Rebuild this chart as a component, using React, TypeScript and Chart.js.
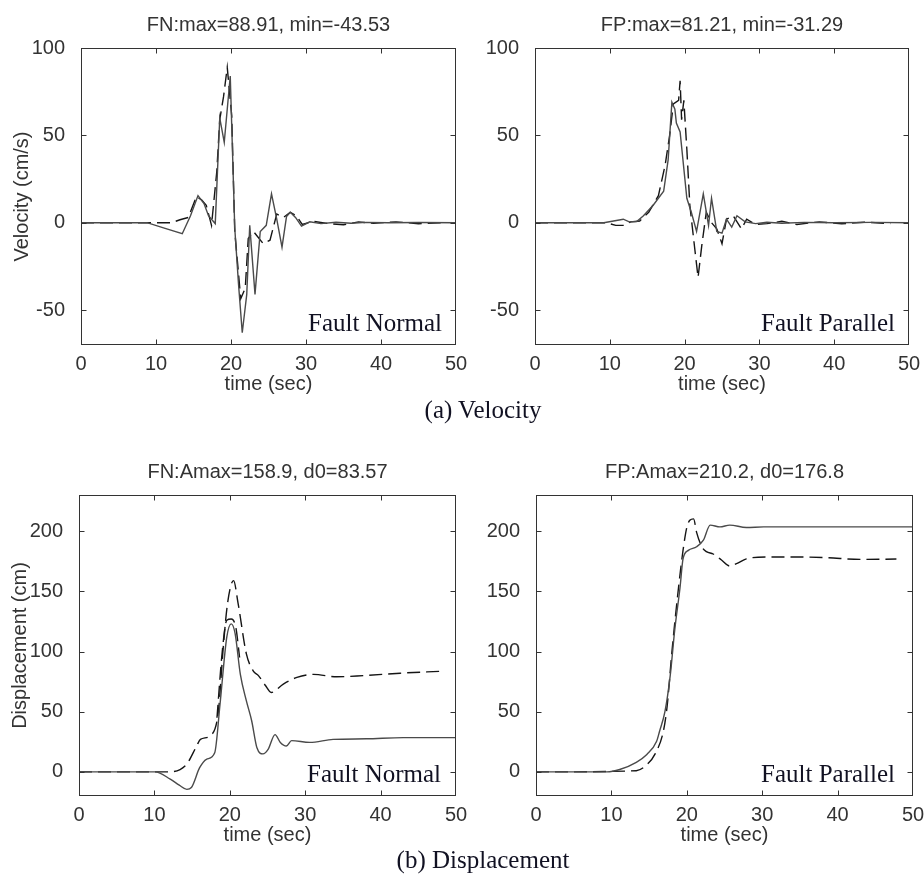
import React, { useEffect, useRef } from 'react';
import { Chart, registerables } from 'chart.js';

Chart.register(...registerables);

// Axis ticks
const timeTicks = [0, 10, 20, 30, 40, 50];
const velocityTicks = [-50, 0, 50, 100];
const displacementTicks = [0, 50, 100, 150, 200];

// Fault-normal velocity (cm/s)
const fnVelSolidT = [0, 8.8, 11, 13.5, 14.6, 15.6, 16.4, 17.0, 17.6, 17.9, 18.5, 19.1, 19.9, 20.5, 21.0, 21.5, 22.1, 22.5, 23.2, 23.9, 24.7, 25.4, 26.1, 26.8, 27.4, 27.9, 28.6, 29.4, 30.5, 32, 34, 36, 38, 41, 45, 50];
const fnVelSolidV = [0, 0, -3, -6.3, 4, 15.5, 11, 4, 1, -0.5, 60, 46, 84, -3, -35, -63, -41, -1.5, -41, -5, -1.5, 16.5, 2, -14, 3.5, 6, 3, -2, 0.5, -0.5, 0.3, -0.3, 0.2, 0, 0.1, 0];
const fnVelDashT = [0, 12.1, 13.2, 14.3, 15.4, 16.1, 16.7, 17.4, 18.1, 18.5, 19.0, 19.5, 20.1, 20.5, 21.3, 21.9, 22.3, 23.0, 24.3, 25.2, 26.1, 27.0, 27.9, 28.7, 29.5, 31, 33, 35, 37, 39, 42, 45, 48];
const fnVelDashV = [0, 0, 1.7, 3, 15, 13, 10, -1.5, 29, 59, 72, 88.91, 61, -5, -43.53, -37.5, -9, -5, -12, -10, 5, 3, 6, 4, -1, 0.8, -0.5, -1.2, 0.5, -0.3, 0.5, -0.6, 0];

// Fault-parallel velocity (cm/s)
const fpVelSolidT = [0, 9.2, 10.5, 11.8, 12.6, 13.6, 14.5, 15.8, 17.2, 17.8, 18.3, 18.7, 18.9, 19.4, 20.3, 20.9, 21.6, 22.5, 23.2, 23.6, 24.3, 25.0, 25.6, 26.3, 27.0, 28.1, 29.5, 31, 33, 36, 40, 45, 50];
const fpVelSolidV = [0, 0, 1, 2, 0.5, 0.7, 4, 10, 18, 36, 69, 65, 57, 52, 14, 6, -5, 16.5, -1.5, 14, -5, -6, 2, -2.5, 4, 0.5, -0.5, 0.3, -0.3, 0.2, 0, 0.2, 0];
const fpVelDashT = [0, 9.5, 10.8, 11.8, 12.8, 14, 15.2, 16.5, 17.4, 18.0, 18.5, 19.2, 19.4, 19.6, 19.9, 20.3, 20.7, 21.4, 21.8, 22.3, 22.9, 23.6, 24.3, 25.0, 25.6, 26.5, 27.6, 28.3, 29.5, 31, 33, 35, 38, 41, 44, 47.5];
const fpVelDashV = [0, 0, -1.5, -1.5, 0.5, 1, 6, 15.5, 33, 50, 68, 70, 81.21, 59, 70, 42, 10, -16.5, -31.29, -13, 6, 0, -3.5, -12, 2, 4, -3.5, 2, -1, -0.5, 0.8, -1, 0.5, -0.6, 0.3, -0.5];

// Fault-normal displacement (cm)
const fnDispSolidT = [0, 10.1, 12.1, 13.3, 14.3, 14.9, 16.0, 16.9, 18.0, 18.7, 19.6, 20.2, 20.7, 21.4, 22.2, 22.9, 23.6, 24.4, 25.1, 26.0, 26.7, 27.5, 28.2, 30.6, 33.7, 38.1, 43, 50];
const fnDispSolidD = [0, 0, -6, -11, -14.5, -13, 3.5, 10.5, 16, 56, 112, 123, 115, 81, 59, 42.5, 20, 15, 19, 31, 24.5, 21.5, 26, 24.5, 27, 27.5, 28.5, 28.5];
const fnDispDashT = [0, 12, 13.4, 14.3, 15.6, 16.1, 17.6, 18.5, 19.1, 19.7, 20.5, 21.1, 22.2, 23.1, 23.8, 24.7, 25.5, 27.1, 28.9, 31.1, 34.2, 37.7, 42.6, 47.9];
const fnDispDashD = [0, 0, 2, 6.5, 21.5, 27, 31, 51, 101, 140, 158.9, 140, 98, 84, 80, 72, 66, 73, 78.5, 81, 79, 80, 82, 83.57];
const fnDispPeakT = [18.3, 19.0, 19.6, 20.2, 20.8, 21.3];
const fnDispPeakD = [45, 100, 126, 127, 120, 95];

// Fault-parallel displacement (cm)
const fpDispSolidT = [0, 9.4, 11.1, 13.3, 14.7, 16.0, 16.4, 17.1, 17.8, 18.4, 19.1, 19.5, 20.2, 21.3, 22.2, 23.1, 24.4, 25.7, 27.9, 30.2, 34.1, 40, 45, 50];
const fpDispSolidD = [0, 0, 2, 8, 14.5, 25.5, 34, 50, 80, 118, 153, 177, 184, 187, 192.5, 205, 203.5, 205, 203, 203.5, 203.5, 203.5, 203.5, 203.5];
const fpDispDashT = [0, 13.3, 14.7, 15.8, 16.9, 17.4, 18.0, 18.9, 19.5, 20.0, 20.4, 20.9, 21.3, 22.0, 22.6, 23.5, 24.6, 25.7, 26.6, 27.9, 30.6, 34.1, 38.5, 43, 47.8];
const fpDispDashD = [0, 1, 6, 15, 34, 55, 98, 153, 184, 203, 209, 210.2, 199, 187, 183, 181, 176, 171, 173, 177, 178.5, 178.5, 178, 176.5, 176.8];

const SANS = '"Liberation Sans", Arial, sans-serif';
const SERIF = '"Liberation Serif", "Times New Roman", serif';

const PAD_L = 81;
const PAD_T = 48;
const PAD_R = 16;
const PAD_B = 56;

type Series = { t: number[]; v: number[]; dashed: boolean };

type PanelDef = {
  left: number;
  top: number;
  right: number;
  bottom: number;
  yMin: number;
  yMax: number;
  yTicks: number[];
  title: string;
  note: string;
  noteInset: number;
  yTitle?: string;
  smooth: boolean;
  series: Series[];
};

const panelFrame = {
  id: 'panelFrame',
  afterDatasetsDraw(chart: any, _args: any, opts: any) {
    const { ctx, chartArea: a, scales } = chart;
    const L = Math.round(a.left) + 0.5;
    const T = Math.round(a.top) + 0.5;
    const R = Math.round(a.right) - 0.5;
    const B = Math.round(a.bottom) - 0.5;
    ctx.save();
    ctx.strokeStyle = '#333';
    ctx.lineWidth = 1;
    ctx.strokeRect(L, T, R - L, B - T);

    // inward tick marks on all four sides
    const tl = 5;
    ctx.beginPath();
    for (const tk of scales.x.ticks) {
      const px = Math.round(scales.x.getPixelForValue(tk.value)) + 0.5;
      if (px <= L + 1 || px >= R - 1) continue;
      ctx.moveTo(px, B);
      ctx.lineTo(px, B - tl);
      ctx.moveTo(px, T);
      ctx.lineTo(px, T + tl);
    }
    for (const tk of scales.y.ticks) {
      const py = Math.round(scales.y.getPixelForValue(tk.value)) + 0.5;
      if (py <= T + 1 || py >= B - 1) continue;
      ctx.moveTo(L, py);
      ctx.lineTo(L + tl, py);
      ctx.moveTo(R, py);
      ctx.lineTo(R - tl, py);
    }
    ctx.stroke();

    const cx = (a.left + a.right) / 2;
    ctx.fillStyle = '#333';
    ctx.font = `20px ${SANS}`;
    ctx.textAlign = 'center';
    ctx.textBaseline = 'alphabetic';
    ctx.fillText(opts.title, cx, a.top - 17);
    ctx.fillText('time (sec)', cx, a.bottom + 45);

    if (opts.yTitle) {
      ctx.save();
      ctx.translate(22, (a.top + a.bottom) / 2);
      ctx.rotate(-Math.PI / 2);
      ctx.textBaseline = 'middle';
      ctx.fillText(opts.yTitle, 0, 0);
      ctx.restore();
    }

    ctx.fillStyle = '#111122';
    ctx.font = `25px ${SERIF}`;
    ctx.textAlign = 'right';
    ctx.fillText(opts.note, a.right - opts.noteInset, a.bottom - 14);
    ctx.restore();
  },
};

function Panel({ def }: { def: PanelDef }) {
  const ref = useRef<HTMLCanvasElement | null>(null);
  const width = def.right - def.left + PAD_L + PAD_R;
  const height = def.bottom - def.top + PAD_T + PAD_B;

  useEffect(() => {
    if (!ref.current) return;
    const chart = new Chart(ref.current, {
      type: 'line',
      data: {
        datasets: def.series.map((s) => ({
          data: s.t.map((t, i) => ({ x: t, y: s.v[i] })),
          borderColor: s.dashed ? '#151515' : '#4a4a4a',
          borderWidth: 1.4,
          borderDash: s.dashed ? [13, 6] : [],
          pointRadius: 0,
          fill: false,
          tension: def.smooth ? 0.25 : 0,
          cubicInterpolationMode: def.smooth ? 'monotone' : 'default',
        })),
      },
      options: {
        responsive: false,
        animation: false,
        devicePixelRatio: 1,
        layout: { padding: { left: 0, top: PAD_T, right: PAD_R, bottom: 0 } },
        plugins: {
          legend: { display: false },
          tooltip: { enabled: false },
          title: { display: false },
          panelFrame: { title: def.title, note: def.note, noteInset: def.noteInset, yTitle: def.yTitle },
        } as any,
        scales: {
          x: {
            type: 'linear',
            min: 0,
            max: 50,
            afterBuildTicks: (s: any) => {
              s.ticks = timeTicks.map((v) => ({ value: v }));
            },
            afterFit: (s: any) => {
              s.height = PAD_B;
            },
            grid: { display: false },
            border: { display: false },
            ticks: { font: { family: SANS, size: 20 }, color: '#333', padding: -1, maxRotation: 0, autoSkip: false },
          },
          y: {
            type: 'linear',
            min: def.yMin,
            max: def.yMax,
            afterBuildTicks: (s: any) => {
              s.ticks = def.yTicks.map((v) => ({ value: v }));
            },
            afterFit: (s: any) => {
              s.width = PAD_L;
            },
            grid: { display: false },
            border: { display: false },
            ticks: { font: { family: SANS, size: 20 }, color: '#333', padding: 8, autoSkip: false },
          },
        },
      } as any,
      plugins: [panelFrame],
    });
    return () => chart.destroy();
  }, []);

  return (
    <canvas
      ref={ref}
      width={width}
      height={height}
      style={{ position: 'absolute', left: def.left - PAD_L, top: def.top - PAD_T, width, height }}
    />
  );
}

const panels: PanelDef[] = [
  {
    left: 81, top: 48, right: 456, bottom: 345,
    yMin: -70, yMax: 100, yTicks: velocityTicks,
    title: 'FN:max=88.91, min=-43.53', note: 'Fault Normal', noteInset: 14,
    yTitle: 'Velocity (cm/s)', smooth: false,
    series: [
      { t: fnVelSolidT, v: fnVelSolidV, dashed: false },
      { t: fnVelDashT, v: fnVelDashV, dashed: true },
    ],
  },
  {
    left: 535, top: 48, right: 909, bottom: 345,
    yMin: -70, yMax: 100, yTicks: velocityTicks,
    title: 'FP:max=81.21, min=-31.29', note: 'Fault Parallel', noteInset: 14,
    smooth: false,
    series: [
      { t: fpVelSolidT, v: fpVelSolidV, dashed: false },
      { t: fpVelDashT, v: fpVelDashV, dashed: true },
    ],
  },
  {
    left: 79, top: 495, right: 456, bottom: 796,
    yMin: -20, yMax: 230, yTicks: displacementTicks,
    title: 'FN:Amax=158.9, d0=83.57', note: 'Fault Normal', noteInset: 15,
    yTitle: 'Displacement (cm)', smooth: true,
    series: [
      { t: fnDispSolidT, v: fnDispSolidD, dashed: false },
      { t: fnDispDashT, v: fnDispDashD, dashed: true },
      { t: fnDispPeakT, v: fnDispPeakD, dashed: true },
    ],
  },
  {
    left: 536, top: 495, right: 913, bottom: 796,
    yMin: -20, yMax: 230, yTicks: displacementTicks,
    title: 'FP:Amax=210.2, d0=176.8', note: 'Fault Parallel', noteInset: 18,
    smooth: true,
    series: [
      { t: fpDispSolidT, v: fpDispSolidD, dashed: false },
      { t: fpDispDashT, v: fpDispDashD, dashed: true },
    ],
  },
];

const captionStyle: React.CSSProperties = {
  position: 'absolute',
  left: 483,
  transform: 'translateX(-50%)',
  font: `25px ${SERIF}`,
  lineHeight: '25px',
  color: '#111122',
  whiteSpace: 'nowrap',
};

export default function App() {
  return (
    <div style={{ position: 'absolute', left: 0, top: 0, width: 924, height: 878, overflow: 'hidden', background: '#fff' }}>
      {panels.map((p, i) => (
        <Panel key={i} def={p} />
      ))}
      <div style={{ ...captionStyle, top: 397 }}>(a) Velocity</div>
      <div style={{ ...captionStyle, top: 847 }}>(b) Displacement</div>
    </div>
  );
}
